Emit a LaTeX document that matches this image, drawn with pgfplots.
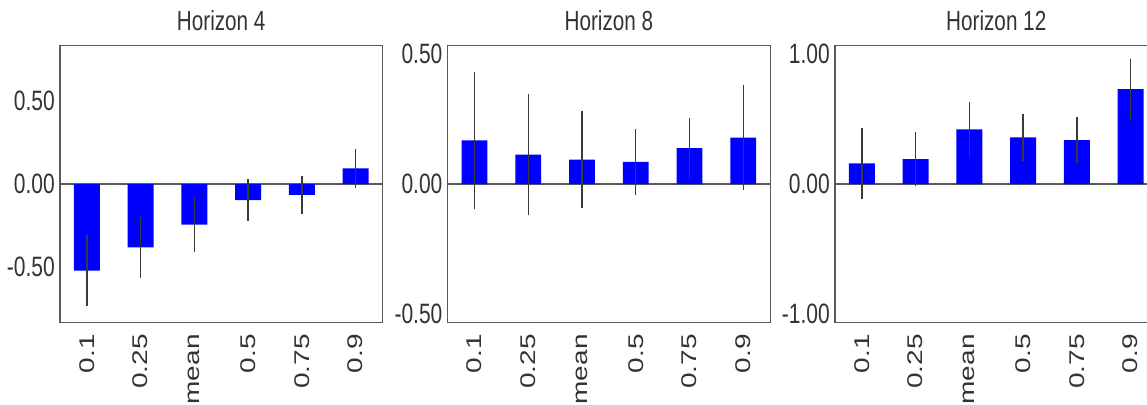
\documentclass[border=0pt]{standalone}
\usepackage{fontspec}
\setmainfont{Liberation Sans}
\usepackage{pgfplots}
\pgfplotsset{compat=1.18}
\definecolor{axgray}{HTML}{5A5A5A}
\definecolor{txtgray}{HTML}{333333}
\definecolor{errgray}{HTML}{3A3A3A}
\pgfplotsset{hz/.style={
  scale only axis, width=161.25pt, height=138.3pt,
  anchor=north west,
  axis line style={draw=axgray, line width=0.6pt},
  major tick length=0pt,
  xmin=-0.5, xmax=5.5, xtick={0,...,5},
  xticklabels={0.1,0.25,mean,0.5,0.75,0.9},
  tick label style={font=\fontsize{14}{16}\selectfont, text=txtgray},
  xticklabel style={yshift=-2.5pt, xscale=0.76, rotate=90, anchor=east},
  yticklabel style={xscale=0.75, anchor=east},
  title style={at={(0.5,1)}, anchor=base, yshift=1.5pt, xscale=0.75,
    font=\fontsize{13.8}{16}\selectfont, text=txtgray},
  ybar, bar width=0.48,
}}
\pgfplotsset{hzbar/.style={fill=blue, draw=none,
  error bars/.cd, y dir=both, y explicit,
  error bar style={color=errgray, line width=0.65pt}, error mark=none}}
\begin{document}
\begin{tikzpicture}
\useasboundingbox (0pt,0pt) rectangle (573.5pt,-202pt);
\clip (0pt,0pt) rectangle (573.5pt,-202pt);
\begin{axis}[hz, at={(30pt,-22.85pt)}, title={Horizon 4},
  ymin=-0.834, ymax=0.834, ytick={-0.5,0,0.5}, yticklabels={-0.50,0.00,0.50}]
\draw[axgray, line width=0.6pt] (axis cs:-0.5,0) -- (axis cs:5.5,0);
\addplot[hzbar] coordinates {
 (0,-0.5225) +- (0,0.2125)
 (1,-0.382) +- (0,0.182)
 (2,-0.2445) +- (0,0.1635)
 (3,-0.097) +- (0,0.127)
 (4,-0.066) +- (0,0.116)
 (5,0.094) +- (0,0.118)
};
\end{axis}
\begin{axis}[hz, at={(223.85pt,-22.85pt)}, title={Horizon 8},
  ymin=-0.532, ymax=0.532, ytick={-0.5,0,0.5}, yticklabels={-0.50,0.00,0.50}]
\draw[axgray, line width=0.6pt] (axis cs:-0.5,0) -- (axis cs:5.5,0);
\addplot[hzbar] coordinates {
 (0,0.1675) +- (0,0.2625)
 (1,0.1135) +- (0,0.2335)
 (2,0.0935) +- (0,0.1865)
 (3,0.0855) +- (0,0.1265)
 (4,0.1385) +- (0,0.1155)
 (5,0.1785) +- (0,0.2005)
};
\end{axis}
\begin{axis}[hz, at={(417.5pt,-22.85pt)}, title={Horizon 12},
  ymin=-1.065, ymax=1.065, ytick={-1,0,1}, yticklabels={-1.00,0.00,1.00}]
\draw[axgray, line width=0.6pt] (axis cs:-0.5,0) -- (axis cs:5.5,0);
\addplot[hzbar] coordinates {
 (0,0.159) +- (0,0.274)
 (1,0.191) +- (0,0.209)
 (2,0.42) +- (0,0.214)
 (3,0.36) +- (0,0.182)
 (4,0.3385) +- (0,0.1785)
 (5,0.7305) +- (0,0.2315)
};
\end{axis}
\end{tikzpicture}
\end{document}
